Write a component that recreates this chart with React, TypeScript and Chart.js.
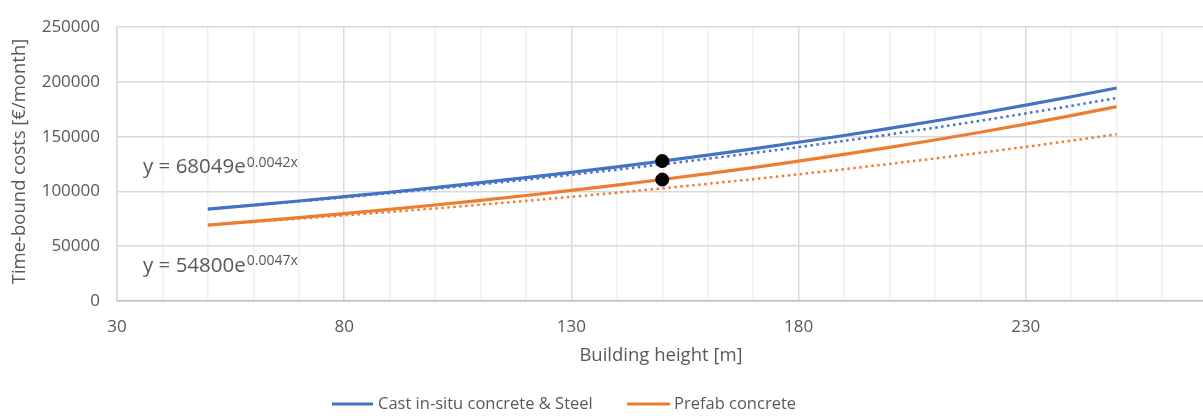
import React, { useEffect, useRef } from 'react';
import { Chart, registerables } from 'chart.js';

Chart.register(...registerables);

// ---- data ----
const heights = [50, 60, 70, 80, 90, 100, 110, 120, 130, 140, 150, 160, 170, 180, 190, 200, 210, 220, 230, 240, 250];
const castSolid = [83950, 87550, 91310, 95220, 99310, 103570, 108010, 112640, 117470, 122510, 127770, 133250, 138970, 144930, 151140, 157630, 164390, 171440, 178790, 186460, 194460];
const prefabSolid = [69320, 72650, 76150, 79810, 83650, 87680, 91900, 96320, 100960, 105810, 110910, 116240, 121840, 127700, 133850, 140290, 147040, 154120, 161530, 169310, 177450];
const castDotted = [84000, 87390, 90920, 94590, 98410, 102380, 106510, 110810, 115280, 119930, 124780, 129810, 135050, 140500, 146170, 152070, 158210, 164600, 171240, 178150, 185340];
const prefabDotted = [69500, 72280, 75170, 78170, 81300, 84550, 87930, 91450, 95100, 98900, 102860, 106970, 111250, 115690, 120320, 125130, 130140, 135340, 140750, 146380, 152230];
const markerHeights = [150];
const castMarker = [127800];
const prefabMarker = [110900];

const xLabelTicks = [30, 80, 130, 180, 230];
const yTickValues = [0, 50000, 100000, 150000, 200000, 250000];

const seriesNames = ['Cast in-situ concrete & Steel', 'Prefab concrete'];
const seriesColors = ['#4472C4', '#ED7D31'];
const eqBase = ['y = 68049e', 'y = 54800e'];
const eqExp = ['0.0042x', '0.0047x'];
const xTitle = 'Building height [m]';
const yTitle = 'Time-bound costs [€/month]';

const FONT = "'Open Sans', sans-serif";
const TEXT = '#595959';

export default function App() {
  const ref = useRef<HTMLCanvasElement>(null);

  useEffect(() => {
    const canvas = ref.current;
    if (!canvas) return;
    const pts = (xs: number[], ys: number[]) => xs.map((x, i) => ({ x, y: ys[i] }));

    const textPlugin = {
      id: 'texts',
      afterDraw(chart: any) {
        const { ctx } = chart;
        ctx.save();
        ctx.fillStyle = TEXT;
        ctx.textBaseline = 'alphabetic';
        ctx.textAlign = 'left';
        // equations
        const eqPos = [
          { x: 143, base: 173, sup: 166.5 },
          { x: 143, base: 272, sup: 264.5 },
        ];
        eqPos.forEach((p, i) => {
          ctx.font = `20.5px ${FONT}`;
          ctx.fillText(eqBase[i], p.x, p.base);
          const w = ctx.measureText(eqBase[i]).width;
          ctx.font = `14px ${FONT}`;
          ctx.fillText(eqExp[i], p.x + w + 1, p.sup);
        });
        // axis titles
        ctx.font = `18.5px ${FONT}`;
        ctx.textAlign = 'center';
        ctx.textBaseline = 'middle';
        ctx.fillText(xTitle, 661, 356);
        ctx.save();
        ctx.translate(20, 161.5);
        ctx.rotate(-Math.PI / 2);
        ctx.fillText(yTitle, 0, 0);
        ctx.restore();
        // legend
        const legend = [
          { x0: 332, x1: 373, tx: 378 },
          { x0: 627, x1: 670, tx: 674 },
        ];
        const ly = 404;
        ctx.font = `16.5px ${FONT}`;
        ctx.textAlign = 'left';
        legend.forEach((l, i) => {
          ctx.strokeStyle = seriesColors[i];
          ctx.lineWidth = 3;
          ctx.beginPath();
          ctx.moveTo(l.x0, ly);
          ctx.lineTo(l.x1, ly);
          ctx.stroke();
          ctx.fillStyle = TEXT;
          ctx.fillText(seriesNames[i], l.tx, ly);
        });
        ctx.restore();
      },
    };

    const chart = new Chart(canvas, {
      type: 'scatter',
      data: {
        datasets: [
          {
            label: 'markers-cast',
            data: pts(markerHeights, castMarker),
            backgroundColor: '#000',
            borderColor: '#000',
            pointRadius: 6.5,
            showLine: false,
            order: 0,
          },
          {
            label: 'markers-prefab',
            data: pts(markerHeights, prefabMarker),
            backgroundColor: '#000',
            borderColor: '#000',
            pointRadius: 6.5,
            showLine: false,
            order: 0,
          },
          {
            label: seriesNames[0],
            data: pts(heights, castSolid),
            borderColor: seriesColors[0],
            backgroundColor: seriesColors[0],
            borderWidth: 3.2,
            pointRadius: 0,
            showLine: true,
            order: 1,
          },
          {
            label: seriesNames[1],
            data: pts(heights, prefabSolid),
            borderColor: seriesColors[1],
            backgroundColor: seriesColors[1],
            borderWidth: 3.2,
            pointRadius: 0,
            showLine: true,
            order: 1,
          },
          {
            label: 'trend-cast',
            data: pts(heights, castDotted),
            borderColor: seriesColors[0],
            borderWidth: 2.5,
            borderDash: [2.5, 3.5],
            pointRadius: 0,
            showLine: true,
            order: 2,
          },
          {
            label: 'trend-prefab',
            data: pts(heights, prefabDotted),
            borderColor: seriesColors[1],
            borderWidth: 2.5,
            borderDash: [2.5, 3.5],
            pointRadius: 0,
            showLine: true,
            order: 2,
          },
        ],
      },
      options: {
        responsive: false,
        animation: false,
        layout: { padding: { top: 22, left: 0, right: 0, bottom: 0 } },
        plugins: { legend: { display: false }, tooltip: { enabled: false } },
        scales: {
          x: {
            type: 'linear',
            min: 30,
            max: 270,
            afterFit: (s: any) => {
              s.height = 115;
              s.paddingRight = 0;
              s.paddingLeft = 0;
            },
            ticks: {
              stepSize: 10,
              autoSkip: false,
              maxRotation: 0,
              padding: 16,
              color: TEXT,
              font: { family: FONT, size: 17 },
              callback: (v: any) => (xLabelTicks.includes(Math.round(Number(v))) ? String(Math.round(Number(v))) : ''),
            },
            grid: {
              drawTicks: false,
              lineWidth: 1.5,
              color: (c: any) =>
                c.tick && xLabelTicks.includes(Math.round(c.tick.value)) ? '#d9d9d9' : '#f0f0f0',
            },
            border: { color: '#bfbfbf', width: 1.5 },
          },
          y: {
            min: 0,
            max: 250000,
            afterFit: (s: any) => {
              s.width = 117;
            },
            ticks: {
              stepSize: 50000,
              padding: 17,
              color: TEXT,
              font: { family: FONT, size: 17 },
              callback: (v: any) => (yTickValues.includes(Number(v)) ? String(v) : ''),
            },
            grid: { drawTicks: false, lineWidth: 1.5, color: '#d9d9d9' },
            border: { color: '#d9d9d9', width: 1.5 },
          },
        },
      },
      plugins: [textPlugin],
    });
    return () => chart.destroy();
  }, []);

  return (
    <div
      style={{
        position: 'absolute',
        left: 0,
        top: 0,
        width: 1203,
        height: 416,
        overflow: 'hidden',
        background: '#fff',
      }}
    >
      <canvas ref={ref} width={1215} height={416} style={{ display: 'block', width: 1215, height: 416 }} />
    </div>
  );
}
